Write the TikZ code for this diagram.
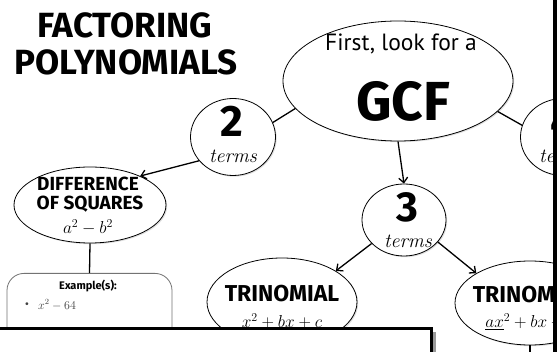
\documentclass[tikz,border=0pt]{standalone}
\usepackage{amsmath,amssymb}
\usepackage{fontspec}
\usepackage{tikz}
\usetikzlibrary{shapes.geometric}
\usetikzlibrary{arrows.meta}
\usetikzlibrary{shadows}
\newfontfamily\labelfont{Fira Sans}
\newfontfamily\handfont{PT Sans}

\tikzset{
  bubble/.style={draw, ellipse, line width=.8pt, fill=white, inner sep=0pt,
    drop shadow={opacity=.25, shadow xshift=1.2pt, shadow yshift=-1.2pt}},
  link/.style={line width=1.3pt},
  pointer/.style={line width=1.3pt, -{Straight Barb[length=5pt,width=9pt]}},
  word/.style={inner sep=0pt, font=\labelfont\bfseries\fontsize{#1}{#1}\selectfont},
  word/.default=19,
  terms/.style={inner sep=0pt, font=\itshape\fontsize{20}{20}\selectfont},
  mathtxt/.style={inner sep=0pt, font=\fontsize{#1}{#1}\selectfont},
  exbox/.style={draw=black!55, line width=.8pt, rounded corners=17pt, inner sep=0pt}
}

\begin{document}
\begin{tikzpicture}[x=1pt,y=-1pt]
\useasboundingbox (0,0) rectangle (560,352);
\fill[white] (0,0) rectangle (560,352);

\begin{scope}
\clip (0,0) rectangle (553,352);
% title
\node[word=35] (title1) at (125,25) {FACTORING};
\node[word=35] (title2) at (126,62.5) {POLYNOMIALS};

% top bubble
\node[bubble, minimum width=230pt, minimum height=120pt] (gcf) at (398,81) {};
\node[inner sep=0pt, font=\handfont\fontsize{23.5}{23.5}\selectfont] (gcftop) at (401,44) {First, look for a};
\node[word=55] (gcfword) at (403,101) {GCF};

% number of terms
\node[bubble, minimum width=85pt, minimum height=77pt] (two) at (233,137) {};
\node[word=44] (twonum) at (232,121) {2};
\node[terms] (twoterms) at (233,156) {terms};

\node[bubble, minimum width=85pt, minimum height=77pt] (four) at (563,137) {};
\node[word=44] (fournum) at (563,121) {4};
\node[terms] (fourterms) at (563,156) {terms};

\node[bubble, minimum width=84pt, minimum height=72pt] (three) at (404,220) {};
\node[word=42] (threenum) at (407,207) {3};
\node[terms] (threeterms) at (408,241) {terms};

% kinds
\node[bubble, minimum width=152pt, minimum height=76pt] (diff) at (90,205) {};
\node[word] (diffa) at (88,183.5) {DIFFERENCE};
\node[word] (diffb) at (90,204.5) {OF SQUARES};
\node[mathtxt=18] (diffc) at (88,227.5) {$a^2-b^2$};

\node[exbox, minimum width=165pt, minimum height=107pt, anchor=north] (ex1) at (89.5,273) {};
\node[word=11] (ex1head) at (88,286) {Example(s):};
\node[inner sep=0pt, text=black!75, font=\fontsize{10}{10}\selectfont] (ex1dot) at (27,305) {\textbullet};
\node[mathtxt=12, text=black!75] (ex1a) at (57,305) {$x^2-64$};

\node[bubble, minimum width=150pt, minimum height=88pt] (trin1) at (282,302) {};
\node[word=23] (trin1a) at (282,293.5) {TRINOMIAL};
\node[mathtxt=17] (trin1b) at (282,321) {$x^2+bx+c$};

\node[bubble, minimum width=150pt, minimum height=84pt] (trin2) at (530,303) {};
\node[word=23] (trin2a) at (530,294.5) {TRINOMIAL};
\node[mathtxt=17] (trin2b) at (530,322) {$\underline{ax}^2+bx+c$};
\coordinate (t2end) at (530,370);

% connectors
\draw[link] (two.20) -- (gcf.195);
\draw[link] (gcf.343) -- (four.164);
\draw[pointer] (gcf.south) -- (three.north);
\draw[pointer] (two.215) -- (diff.30);
\draw[link] (diff.south) -- (ex1.north);
\draw[pointer] (three.216) -- (trin1.30);
\draw[pointer] (three.327) -- (trin2.151);
\draw[link] (trin2.south) -- (t2end);
\end{scope}

% frame and cover
\draw[line width=3.5pt] (555,-5) -- (555,360);
\fill[black!40] (-5,332) rectangle (436,370);
\draw[line width=2.5pt, fill=white] (-5,328.5) rectangle (431.5,370);
\end{tikzpicture}
\end{document}
